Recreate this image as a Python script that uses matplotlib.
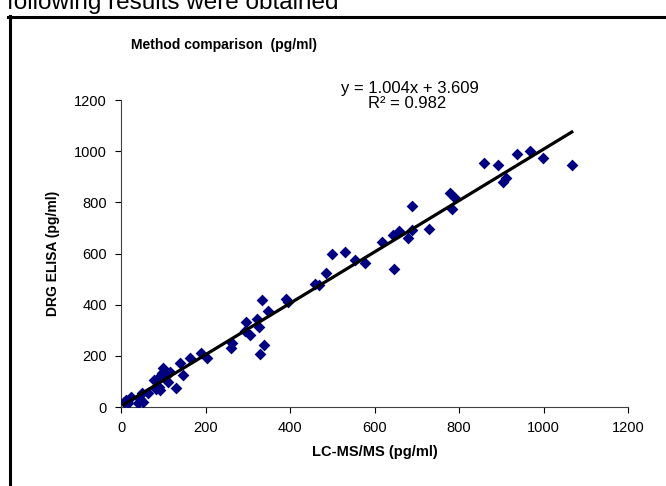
import matplotlib
matplotlib.use("Agg")
import matplotlib.pyplot as plt
from matplotlib.lines import Line2D
import numpy as np

plt.rcParams['font.family'] = ['Liberation Sans', 'DejaVu Sans']

lcms = [6, 12, 17, 23, 40, 45, 49, 52, 65, 77, 84, 88, 90, 92, 96, 100, 104, 112, 116,
        130, 140, 146, 163, 189, 203, 260, 262, 293, 297, 305, 323, 327, 329, 333, 338,
        349, 391, 396, 459, 469, 485, 499, 530, 554, 577, 617, 644, 646, 658, 679, 688,
        688, 730, 779, 784, 790, 858, 892, 903, 911, 938, 968, 999, 1067]
elisa = [21, 27, 16, 40, 16, 31, 56, 21, 56, 106, 69, 112, 80, 67, 132, 152, 119, 99, 138,
         73, 171, 125, 191, 210, 193, 229, 251, 298, 331, 280, 344, 312, 207, 417, 243,
         374, 422, 411, 482, 476, 522, 600, 605, 574, 563, 646, 674, 540, 688, 659, 690,
         784, 697, 835, 772, 817, 953, 945, 880, 897, 988, 1000, 974, 945]
slope = 1.004
intercept = 3.609
r2 = 0.982
ticks = [0, 200, 400, 600, 800, 1000, 1200]

W, H = 666, 486
fig = plt.figure(figsize=(W / 100, H / 100), dpi=100)
ax = fig.add_axes([121 / W, 1 - 407 / H, (628 - 121) / W, (407 - 100) / H])

ax.scatter(lcms, elisa, marker='D', s=36, color='#000080', zorder=3, linewidths=0)
xs = np.array([min(lcms), max(lcms)])
ax.plot(xs, slope * xs + intercept, color='black', lw=2.3, zorder=4)

ax.set_xlim(0, 1200)
ax.set_ylim(0, 1200)
ax.set_xticks(ticks)
ax.set_yticks(ticks)
ax.tick_params(direction='out', length=4, width=0.8, labelsize=10.5, pad=6, colors='black')
for s in ['top', 'right']:
    ax.spines[s].set_visible(False)
for s in ['left', 'bottom']:
    ax.spines[s].set_linewidth(0.8)
    ax.spines[s].set_color('#404040')

ax.set_xlabel('LC-MS/MS (pg/ml)', fontsize=10.5, fontweight='bold', labelpad=7)
ax.set_ylabel('DRG ELISA (pg/ml)', fontsize=10, fontweight='bold', labelpad=10)

fig.text(131 / W, 1 - 45 / H, 'Method comparison  (pg/ml)', fontsize=10,
         fontweight='bold', va='center', ha='left')
fig.text(410 / W, 1 - 88 / H, f'y = {slope}x + {intercept}', fontsize=12,
         ha='center', va='center')
fig.text(407 / W, 1 - 103 / H, f'R\u00b2 = {r2}', fontsize=12, ha='center', va='center')

fig.text(7 / W, 1 - 8.5 / H, 'following results were obtained', fontsize=17.5,
         ha='left', va='baseline')

fig.add_artist(Line2D([9.5 / W, 9.5 / W], [1 - 16 / H, 0], color='black', lw=2.2,
                      transform=fig.transFigure))
fig.add_artist(Line2D([8 / W, 1], [1 - 17 / H, 1 - 17 / H], color='black', lw=2.2,
                      transform=fig.transFigure))

fig.savefig('out.png', dpi=100)
